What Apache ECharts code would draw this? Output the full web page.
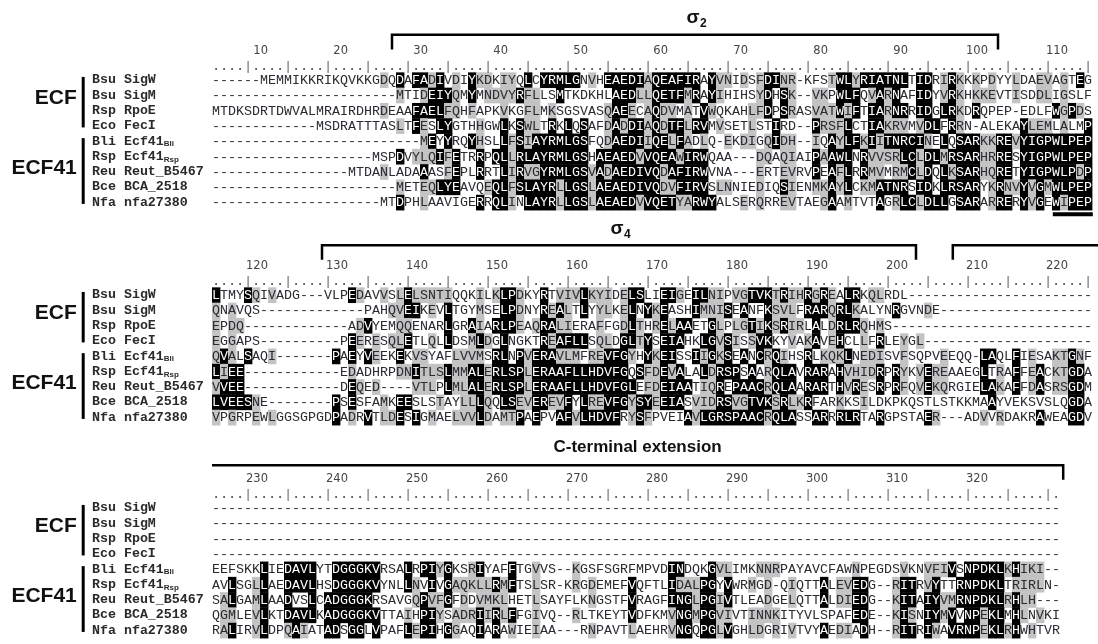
<!DOCTYPE html>
<html><head><meta charset="utf-8">
<script src="https://cdn.jsdelivr.net/npm/echarts@6/dist/echarts.min.js"></script>
<style>html,body{margin:0;padding:0;background:#fff}#c{width:1098px;height:644px}</style>
</head><body><div id="c"></div>
<script>
// ---------------- data ----------------
const seqNames = ['Bsu SigW','Bsu SigM','Rsp RpoE','Eco FecI','Bli Ecf41','Rsp Ecf41','Reu Reut_B5467','Bce BCA_2518','Nfa nfa27380'];
const seqNameSubs = ['','','','','Bli','Rsp','','',''];
const groupNames = ['ECF','ECF41'];
const groupFirstRow = [0,4];
const groupLastRow = [3,8];

const block1 = [
'------MEMMIKKRIKQVKKGDQDAFADIVDIYKDKIYQLCYRMLGNVHEAEDIAQEAFIRAYVNIDSFDINR-KFSTWLYRIATNLTIDRIRKKKPDYYLDAEVAGTEG',
'-----------------------MTIDEIYQMYMNDVYRFLLSMTKDKHLAEDLLQETFMRAYIHIHSYDHSK--VKPWLFQVARNAFIDYVRKHKKEVTISDDLIGSLF',
'MTDKSDRTDWVALMRAIRDHRDEAAFAELFQHFAPKVKGFLMKSGSVASQAEECAQDVMATVWQKAHLFDPSRASVATWIFTIARNRRIDGLRKDRQPEP-EDLFWGPDS',
'-------------MSDRATTTASLTFESLYGTHHGWLKSWLTRKLQSAFDADDIAQDTFLRVMVSETLSTIRD--PRSFLCTIAKRVMVDLFRRN-ALEKAYLEMLALMP',
'--------------------------MEYYRQYHSLLFSIAYRMLGSFQDAEDIIQELFADLQ-EKDIGQIDH--IQAYLFKIITNRCINELQSARKKREVYIGPWLPEP',
'--------------------MSPDVYLQIFETRRPQLLRLAYRMLGSHAEAEDVVQEAWIRWQAA---DQAQIAIPAAWLNRVVSRLCLDLMRSARHRRESYIGPWLPEP',
'-----------------MTDANLADAAASFEPLRRTLIRVGYRMLGSVADAEDIVQDAFIRWVNA---ERTEVRVPEAFLRRMVMRMCLDQLKSARHQRETYIGPWLPDP',
'-----------------------METEQLYEAVQEQLFSLAYRLLGSLAEAEDIVQDVFIRVSLNNIEDIQSIENMKAYLCKMATNRSIDKLRSARYKRNVYVGMWLPEP',
'---------------------MTDPHLAAVIGERRQLINLAYRLLGSLAEAEDVVQETYARWYALSERQRREVTAEGAAMTVTAGRLCLDLLGSARARRERYVGEWIPEP'
];
const block2 = [
'LTMYSQIVADG---VLPEDAVVSLELSNTIQQKILKLPDKYRTVIVLKYIDELSLIEIGEILNIPVGTVKTRIHRGREALRKQLRDL-----------------------',
'QNAVQS-------------PAHQVEIKEVLTGYMSELPDNYREALTLYYLKELNYKEASHIMNISEANFKSVLFRARQRLKALYNRGVNDE-------------------',
'EPDQ-------------ADVYEMQQENARLGRAIARLPEAQRALIERAFFGDLTHRELAAETGLPLGTIKSRIRLALDRLRQHMS-------------------------',
'EGGAPS----------PEERESQLETLQLLDSMLDGLNGKTREAFLLSQLDGLTYSEIAHKLGVSISSVKKYVAKAVEHCLLFRLEYGL---------------------',
'QVALSAQI-------PAEYVEEKEKVSYAFLVVMSRLNPVERAVLMFREVFGYHYKEISSIIGKSEANCRQIHSRLKQKLNEDISVFSQPVEEQQ-LAQLFIESAKTGNF',
'LIEE------------EDADHRPDNITLSLMMALERLSPLERAAFLLHDVFGQSFDEVALALDRSPSAARQLAVRARAHVHIDRPRYKVEREAAEGLTRAFFEACKTGDA',
'VVEE------------DEQED----VTLPLMLALERLSPLERAAFLLHDVFGLEFDEIAATIQREPAACRQLAARARTHVRESRPRFQVEKQRGIELAKAFFDASRSGDM',
'LVEESNE--------PSESFAMKEESLSTAYLLLQQLSEVEREVFYLREVFGYSYEEIASVIDRSVGTVKSRLKRFARKKSILDKPKQSTLSTKKMAAYVEKSVSLQGDA',
'VPGRPEWLGGSGPGDPADRVTLDESIGMAELVVLDAMTPAEPVAFVLHDVFRYSFPVEIAVLGRSPAACRQLASSARRRLRTARGPSTAER---ADVVRDAKRAWEAGDV'
];
const block3 = [
'----------------------------------------------------------------------------------------------------------',
'----------------------------------------------------------------------------------------------------------',
'----------------------------------------------------------------------------------------------------------',
'----------------------------------------------------------------------------------------------------------',
'EEFSKKLIEDAVLYTDGGGKVRSALRPIYGKSRIYAFFTGVVS--KGSFSGRFMPVDINDQKGVLIMKNNRPAYAVCFAWNPEGDSVKNVFIVSNPDKLKHIKI--',
'AVLSGLLAEDAVLHSDGGGKVYNLLNVIVGAQKLLRMFTSLSR-KRGDEMEFVQFTLIDALPGYVWRMGD-QIQTTALEVEDG--RITRVYTTRNPDKLTRIRLN-',
'SALGAMLAADVSLCADGGGKRSAVGQPVFGFDDVMKLHETLSAYFLKNGSTFVRAGFINGLPGIVTLEADGELQTTALDIEDG--KITAIYVMRNPDKLRHLH---',
'QGMLEVLKTDAVLKADGGGKVTTAIHPIYSADRIIRLFFGIVQ--RLTKEYTVDFKMVNGMPGVIVTINNKITYVLSPAFEDE--KISNIYMVVNPEKLMHLNVKI',
'RALIRVLDPQAIATADSGGLVPAFLEPIHGGAQIARAWIEIAA---RNPAVTLAEHRVNGQPGLVGHLDGRIVTVYAEDIADH--RITRIWAVRNPEKLRHWHTVR'
];
const blockStart = [1, 111, 221];
const rulerNumbers = [
  [10,20,30,40,50,60,70,80,90,100,110],
  [120,130,140,150,160,170,180,190,200,210,220],
  [230,240,250,260,270,280,290,300,310,320]
];
// domains in alignment columns
const domainNames = ['σ|2', 'σ|4', 'C-terminal extension'];
const domainFrom = [23.0, 124.25, 203.1];
const domainTo   = [98.75, 198.5, 326.9];
// underline mark below the last sequence (alignment columns)
const underlineFrom = [105.6];
const underlineTo = [110.6];

// ---------------- layout (styles) ----------------
const ROWH = 15.3;
const rowTop = [80, 295, 508];
const GRID_LEFT = 212, COLW = 8;
const blocks = [block1, block2, block3];
const MONO = '"Liberation Mono", "DejaVu Sans Mono", monospace';

// shading: identical (>=3 of 9 sequences, column majority) black; similar group (>=3) grey
const simGroups = ['ILVM','FYW','KRH','DENQ','AG','ST','P','C'];
const MINCOUNT = 3;
function grp(c){ for (const g of simGroups) if (g.indexOf(c)>=0) return g; return c; }
function shadeBlock(seqs){
  const n = seqs[0].length; const out = seqs.map(()=>[]);
  for (let i=0;i<n;i++){
    const cnt = {}, gcnt = {};
    seqs.forEach(s=>{const c=s[i]; if(c && c!=='-'){cnt[c]=(cnt[c]||0)+1; const g=grp(c); gcnt[g]=(gcnt[g]||0)+1;}});
    let bc=0; for (const k in cnt) if (cnt[k]>bc) bc=cnt[k];
    seqs.forEach((s,r)=>{
      const c=s[i]; let v=0;
      if (c!=='-'){
        if (cnt[c]>=MINCOUNT && cnt[c]===bc) v=2;
        else if (gcnt[grp(c)]>=MINCOUNT) v=1;
      }
      out[r].push(v);
    });
  }
  return out;
}

const grids=[], xAxes=[], yAxes=[], series=[];
blocks.forEach((seqs,b)=>{
  grids.push({left: GRID_LEFT, width: 110*COLW, top: rowTop[b], height: 8*ROWH});
  xAxes.push({type:'value', gridIndex:b, min:0.5, max:110.5, show:false});
  yAxes.push({type:'value', gridIndex:b, inverse:true, min:0, max:8, interval:1,
    axisLine:{show:false}, axisTick:{show:false}, splitLine:{show:false},
    axisLabel:{show:true, align:'left', margin:120, color:'#2a2a2a',
      fontFamily: MONO, fontSize: 13.3, fontWeight:'bold',
      formatter: v => { const i = Math.round(v); return seqNameSubs[i] ? '{n|'+seqNames[i]+'}{s|'+seqNameSubs[i]+'}' : '{n|'+seqNames[i]+'}'; },
      rich:{ n:{fontFamily:MONO, fontSize:13.3, fontWeight:'bold', color:'#2a2a2a'}, s:{fontFamily:'"Liberation Sans", sans-serif', fontSize:8, fontWeight:'bold', color:'#2a2a2a', padding:[6,0,0,0]} }
    }});
  const shades = shadeBlock(seqs);
  const chars = [], data = [];
  seqs.forEach((s,r)=>{ for (let i=0;i<s.length;i++){ data.push([i+1, r, shades[r][i]]); chars.push(s[i]); } });
  series.push({type:'custom', xAxisIndex:b, yAxisIndex:b, silent:true, animation:false, data,
    renderItem:(p, api)=>{
      const c = api.value(0), r = api.value(1), sh = api.value(2), ch = chars[p.dataIndex];
      const a = api.coord([c-0.5, r-0.5]), z = api.coord([c+0.5, r+0.5]);
      const x = Math.min(a[0],z[0]), y = Math.min(a[1],z[1]), w = Math.abs(z[0]-a[0]), h = Math.abs(z[1]-a[1]);
      const kids = [];
      if (sh>0) kids.push({type:'rect', shape:{x:x, y:y, width:w+0.4, height:h+0.4}, style:{fill: sh===2?'#000':'#c3c3c3'}});
      kids.push({type:'text', style:{text:ch, x:x+w/2, y:y+h/2+0.5, textAlign:'center', textVerticalAlign:'middle', align:'center', verticalAlign:'middle',
        font:'13.3px '+MONO, fill: sh===2?'#fff':'#2a2a30'}});
      return {type:'group', children:kids};
    }});
  // ruler dots
  const n = seqs[0].length;
  const dots = []; for (let i=1;i<=n;i++) dots.push([i, (i%5===0)?1:0]);
  series.push({type:'custom', xAxisIndex:b, yAxisIndex:b, silent:true, animation:false, data:dots,
    renderItem:(p, api)=>{
      const pt = api.coord([api.value(0), -0.85]);
      return {type:'text', style:{text: api.value(1)?'|':'.', x:pt[0], y:pt[1], textAlign:'center', textVerticalAlign:'middle', align:'center', verticalAlign:'middle',
        font:'12px '+MONO, fill: api.value(1)?'#556':'#333'}};
    }});
  // ruler numbers
  const nums = rulerNumbers[b].map(v=>[v-blockStart[b]+1, v]);
  series.push({type:'custom', xAxisIndex:b, yAxisIndex:b, silent:true, animation:false, data:nums,
    renderItem:(p, api)=>{
      const pt = api.coord([api.value(0)-2.5, -1.9]);
      return {type:'text', style:{text:String(api.value(1)), x:pt[0], y:pt[1], textAlign:'right', textVerticalAlign:'middle', align:'right', verticalAlign:'middle',
        font:'11.5px "DejaVu Sans", sans-serif', fill:'#444'}};
    }});
  // group labels and bars
  const gdata = groupNames.map((g,i)=>[groupFirstRow[i], groupLastRow[i], i]);
  series.push({type:'custom', xAxisIndex:b, yAxisIndex:b, silent:true, animation:false, data:gdata,
    renderItem:(p, api)=>{
      const r0 = api.value(0), r1 = api.value(1), gi = api.value(2);
      const t = api.coord([-15.6, r0-0.2]), bt = api.coord([-15.6, r1+0.1]);
      const lab = api.coord([-16.4, (r0+r1)/2 - (gi===0?0.3:0.25)]);
      return {type:'group', children:[
        {type:'line', shape:{x1:t[0], y1:t[1], x2:bt[0], y2:bt[1]}, style:{stroke:'#000', lineWidth:3}},
        {type:'text', style:{text:groupNames[gi], x:lab[0], y:lab[1], textAlign:'right', textVerticalAlign:'middle', align:'right', verticalAlign:'middle',
          font:'bold 21px "Liberation Sans", Arial, sans-serif', fill:'#111'}}
      ]};
    }});
  // domain brackets
  const bStart = blockStart[b] - 0.5, bEnd = blockStart[b] + 110 - 0.5;
  const ddata = [];
  domainNames.forEach((d,i)=>{
    if (domainTo[i] > bStart && domainFrom[i] < bEnd) ddata.push([i]);
  });
  const bracketY = [-2.95, -3.25, -2.8][b];
  const labelY = [-4.1, -4.35, -3.95][b];
  series.push({type:'custom', xAxisIndex:b, yAxisIndex:b, silent:true, animation:false, data:ddata,
    renderItem:(p, api)=>{
      const i = api.value(0);
      const f = domainFrom[i], t = domainTo[i];
      const x0 = Math.max(f, bStart) - blockStart[b] + 1, x1 = Math.min(t, bEnd + 1.2) - blockStart[b] + 1;
      const pts = [];
      const A = api.coord([x0, bracketY]), B = api.coord([x1, bracketY]);
      const Adn = api.coord([x0, bracketY+0.95]), Bdn = api.coord([x1, bracketY+0.95]);
      if (f >= bStart) pts.push(Adn);
      pts.push(A, B);
      if (t <= bEnd) pts.push(Bdn);
      const kids = [{type:'polyline', shape:{points:pts}, style:{stroke:'#000', lineWidth:2.5, fill:null}}];
      const showLabel = (i===2) ? (b===2) : true;
      if (showLabel){
        const cx = (x0 + x1)/2;
        const L = api.coord([cx, labelY]);
        const nm = domainNames[i];
        if (nm.indexOf('|')>=0){
          const parts = nm.split('|');
          kids.push({type:'text', style:{text:parts[0], x:L[0]-2, y:L[1], textAlign:'center', textVerticalAlign:'middle', align:'center', verticalAlign:'middle', font:'bold 19px "Liberation Sans", sans-serif', fill:'#111'}});
          kids.push({type:'text', style:{text:parts[1], x:L[0]+5, y:L[1]+6, textAlign:'left', textVerticalAlign:'middle', align:'left', verticalAlign:'middle', font:'bold 12px "Liberation Sans", sans-serif', fill:'#111'}});
        } else {
          kids.push({type:'text', style:{text:nm, x:L[0], y:L[1], textAlign:'center', textVerticalAlign:'middle', align:'center', verticalAlign:'middle', font:'bold 17px "Liberation Sans", sans-serif', fill:'#111'}});
        }
      }
      return {type:'group', children:kids};
    }});
  // underline marks
  const udata = [];
  underlineFrom.forEach((f,i)=>{ if (f >= bStart && f < bEnd) udata.push([f - blockStart[b] + 1, underlineTo[i] - blockStart[b] + 1]); });
  series.push({type:'custom', xAxisIndex:b, yAxisIndex:b, silent:true, animation:false, data:udata,
    renderItem:(p, api)=>{
      const A = api.coord([api.value(0), 8.78]), B = api.coord([api.value(1), 8.78]);
      return {type:'line', shape:{x1:A[0], y1:A[1], x2:B[0], y2:B[1]}, style:{stroke:'#000', lineWidth:4}};
    }});
});

const chart = echarts.init(document.getElementById('c'), null, {renderer:'canvas'});
chart.setOption({backgroundColor:'#fff', animation:false, grid:grids, xAxis:xAxes, yAxis:yAxes, series:series});
</script></body></html>
